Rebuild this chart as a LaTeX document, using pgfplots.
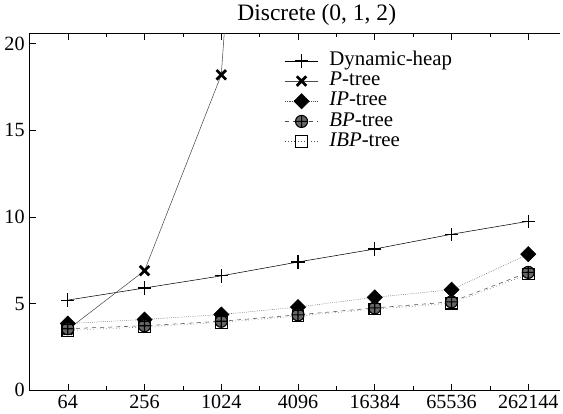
\documentclass[border=0pt]{standalone}
\usepackage{fontspec}
\setmainfont{Liberation Serif}
\usepackage{pgfplots}
\pgfplotsset{compat=1.18}

\begin{document}
\begin{tikzpicture}[x=0.75pt,y=0.75pt]
\begin{axis}[
    scale only axis,
    width=395pt, height=265.5pt,
    xmin=-0.5, xmax=6.42,
    ymin=0, ymax=20.6,
    axis y line*=left,
    axis x line*=box,
    xtick={0,...,6},
    xticklabels={64,256,1024,4096,16384,65536,262144},
    minor xtick={0.5,1.5,...,5.5},
    ytick={0,5,10,15,20},
    tick align=inside,
    major tick length=5pt,
    minor tick length=3pt,
    tick style={black, thin},
    axis line style={black, thin},
    ticklabel style={font=\fontsize{15}{18}\selectfont},
    /pgf/number format/assume math mode=true,
    title={Discrete (0, 1, 2)},
    title style={font=\fontsize{17.5}{20}\selectfont, at={(0.541,1)}, yshift=-4pt},
    legend style={draw=none, fill=none, inner sep=0pt, at={(axis cs:2.82,19.6)}, anchor=north west,
        font=\fontsize{15.5}{18}\selectfont, row sep=0pt,
        nodes={inner sep=0pt, text height=11pt, text depth=4pt},
        /tikz/every odd column/.append style={column sep=8pt}},
    legend cell align=left,
    legend image code/.code={
        \draw[mark repeat=2, mark phase=2] plot coordinates {(0pt,0pt) (12.5pt,0pt) (25pt,0pt)};
    },
    clip=true,
]
\addplot[black, thin, mark=+, mark size=5pt, mark options={solid, thick}] coordinates {
    (0,5.2) (1,5.9) (2,6.6) (3,7.4) (4,8.15) (5,9.0) (6,9.75)
};
\addlegendentry{Dynamic-heap}
\addplot[black!70, thin, mark=x, mark size=5pt, mark options={solid, black, line width=2pt}] coordinates {
    (0,3.5) (1,6.9) (2,18.2) (3,80)
};
\addlegendentry{\textit{P}-tree}
\addplot[black!70, densely dotted, mark=square*, mark size=4pt, mark options={solid, black, rotate=45}] coordinates {
    (0,3.85) (1,4.08) (2,4.37) (3,4.8) (4,5.36) (5,5.8) (6,7.85)
};
\addlegendentry{\textit{IP}-tree}
\addplot[black!70, dashed, mark=oplus*, mark size=4.5pt, mark options={solid, black, fill=black!60, thick}] coordinates {
    (0,3.55) (1,3.72) (2,3.98) (3,4.35) (4,4.75) (5,5.1) (6,6.8)
};
\addlegendentry{\textit{BP}-tree}
\addplot[black!70, dotted, mark=square, mark size=4.3pt, mark options={solid, black, thick}] coordinates {
    (0,3.45) (1,3.65) (2,3.92) (3,4.28) (4,4.68) (5,5.02) (6,6.7)
};
\addlegendentry{\textit{IBP}-tree}
\end{axis}
\end{tikzpicture}
\end{document}
